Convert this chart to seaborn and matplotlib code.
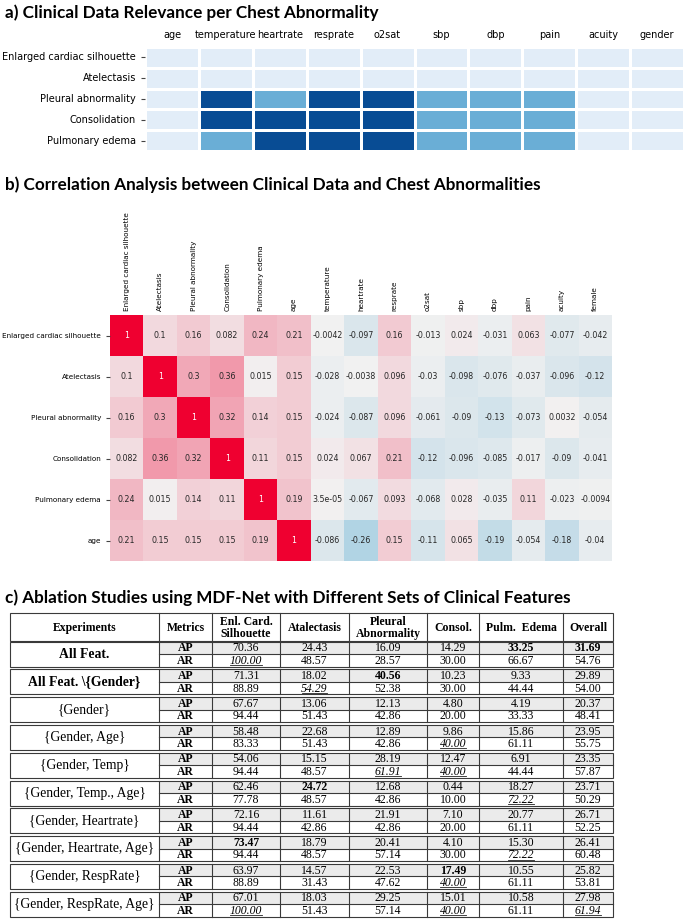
import numpy as np
import pandas as pd
import matplotlib
matplotlib.use('Agg')
import matplotlib.pyplot as plt
import seaborn as sns
from matplotlib.colors import ListedColormap, LinearSegmentedColormap
from matplotlib.patches import Rectangle

# ---- data: a) relevance (0 none, 1 medium, 2 high)
abnormalities = ['Enlarged cardiac silhouette', 'Atelectasis', 'Pleural abnormality',
                 'Consolidation', 'Pulmonary edema']
clinical_a = ['age', 'temperature', 'heartrate', 'resprate', 'o2sat',
              'sbp', 'dbp', 'pain', 'acuity', 'gender']
rel_ecs = [0, 0, 0, 0, 0, 0, 0, 0, 0, 0]
rel_atel = [0, 0, 0, 0, 0, 0, 0, 0, 0, 0]
rel_pleural = [0, 2, 1, 2, 2, 1, 1, 1, 0, 0]
rel_consol = [0, 2, 2, 2, 2, 1, 1, 1, 0, 0]
rel_edema = [0, 1, 2, 2, 2, 1, 1, 1, 0, 0]

# ---- data: b) correlation
corr_rows = ['Enlarged cardiac silhouette', 'Atelectasis', 'Pleural abnormality',
             'Consolidation', 'Pulmonary edema', 'age']
corr_cols = ['Enlarged cardiac silhouette', 'Atelectasis', 'Pleural abnormality',
             'Consolidation', 'Pulmonary edema', 'age', 'temperature', 'heartrate',
             'resprate', 'o2sat', 'sbp', 'dbp', 'pain', 'acuity', 'female']
corr_ecs = [1, 0.1, 0.16, 0.082, 0.24, 0.21, -0.0042, -0.097, 0.16, -0.013, 0.024, -0.031, 0.063, -0.077, -0.042]
corr_atel = [0.1, 1, 0.3, 0.36, 0.015, 0.15, -0.028, -0.0038, 0.096, -0.03, -0.098, -0.076, -0.037, -0.096, -0.12]
corr_pleural = [0.16, 0.3, 1, 0.32, 0.14, 0.15, -0.024, -0.087, 0.096, -0.061, -0.09, -0.13, -0.073, 0.0032, -0.054]
corr_consol = [0.082, 0.36, 0.32, 1, 0.11, 0.15, 0.024, 0.067, 0.21, -0.12, -0.096, -0.085, -0.017, -0.09, -0.041]
corr_edema = [0.24, 0.015, 0.14, 0.11, 1, 0.19, 3.5e-05, -0.067, 0.093, -0.068, 0.028, -0.035, 0.11, -0.023, -0.0094]
corr_age = [0.21, 0.15, 0.15, 0.15, 0.19, 1, -0.086, -0.26, 0.15, -0.11, 0.065, -0.19, -0.054, -0.18, -0.04]

# ---- data: c) ablation table
experiments = ['All Feat.', 'All Feat. \\{Gender}', '{Gender}', '{Gender, Age}', '{Gender, Temp}',
               '{Gender, Temp., Age}', '{Gender, Heartrate}', '{Gender, Heartrate, Age}',
               '{Gender, RespRate}', '{Gender, RespRate, Age}']
exp_bold = [True, True, False, False, False, False, False, False, False, False]
table_cols = ['Enl. Card.\nSilhouette', 'Atalectasis', 'Pleural\nAbnormality', 'Consol.',
              'Pulm.  Edema', 'Overall']
ap_values = [
    [70.36, 24.43, 16.09, 14.29, 33.25, 31.69],
    [71.31, 18.02, 40.56, 10.23, 9.33, 29.89],
    [67.67, 13.06, 12.13, 4.80, 4.19, 20.37],
    [58.48, 22.68, 12.89, 9.86, 15.86, 23.95],
    [54.06, 15.15, 28.19, 12.47, 6.91, 23.35],
    [62.46, 24.72, 12.68, 0.44, 18.27, 23.71],
    [72.16, 11.61, 21.91, 7.10, 20.77, 26.71],
    [73.47, 18.79, 20.41, 4.10, 15.30, 26.41],
    [63.97, 14.57, 22.53, 17.49, 10.55, 25.82],
    [67.01, 18.03, 29.25, 15.01, 10.58, 27.98],
]
ar_values = [
    [100.00, 48.57, 28.57, 30.00, 66.67, 54.76],
    [88.89, 54.29, 52.38, 30.00, 44.44, 54.00],
    [94.44, 51.43, 42.86, 20.00, 33.33, 48.41],
    [83.33, 51.43, 42.86, 40.00, 61.11, 55.75],
    [94.44, 48.57, 61.91, 40.00, 44.44, 57.87],
    [77.78, 48.57, 42.86, 10.00, 72.22, 50.29],
    [94.44, 42.86, 42.86, 20.00, 61.11, 52.25],
    [94.44, 48.57, 57.14, 30.00, 72.22, 60.48],
    [88.89, 31.43, 47.62, 40.00, 61.11, 53.81],
    [100.00, 51.43, 57.14, 40.00, 61.11, 61.94],
]

W, H = 685, 921
fig = plt.figure(figsize=(W / 100, H / 100), dpi=100)


def box(x0, y0, x1, y1):
    return [x0 / W, 1 - y1 / H, (x1 - x0) / W, (y1 - y0) / H]


title_kw = dict(fontfamily='Lato', fontweight='bold', fontsize=12.3, va='center', ha='left')
serif = 'Liberation Serif'

# ---- c) table, drawn in a figure-wide pixel axes
ax_c = fig.add_axes([0, 0, 1, 1])
ax_c.set_xlim(0, W)
ax_c.set_ylim(H, 0)
ax_c.axis('off')

col_edges = [10, 159, 212, 280, 349, 427, 479, 563, 613]
head_top, head_bot = 613, 641
pitch, row_h = 27.8, 12.5
lc, lw = '#3a3a3a', 0.8
fs = 8.5

ax_c.add_patch(Rectangle((col_edges[0], head_top), col_edges[-1] - col_edges[0],
                         head_bot - head_top, fill=False, ec=lc, lw=lw))
for x in col_edges[1:-1]:
    ax_c.plot([x, x], [head_top, head_bot], color=lc, lw=lw)
heads = ['Experiments', 'Metrics'] + table_cols
for i, h in enumerate(heads):
    xc = (col_edges[i] + col_edges[i + 1]) / 2
    ax_c.text(xc, (head_top + head_bot) / 2 + 0.5, h, ha='center', va='center',
              fontsize=fs, fontfamily=serif, fontweight='bold', linespacing=1.0)

ap_arr = np.array(ap_values)
ar_arr = np.array(ar_values)
ap_best = ap_arr.max(axis=0)
ar_best = ar_arr.max(axis=0)
underline_texts = []

for g, name in enumerate(experiments):
    top = head_bot + 0.5 + pitch * g
    ax_c.add_patch(Rectangle((col_edges[1], top), col_edges[-1] - col_edges[1], row_h,
                             fc='#ebebeb', ec='none'))
    ax_c.add_patch(Rectangle((col_edges[0], top), col_edges[-1] - col_edges[0], 2 * row_h,
                             fill=False, ec=lc, lw=lw))
    for x in col_edges[1:-1]:
        ax_c.plot([x, x], [top, top + 2 * row_h], color=lc, lw=lw)
    ax_c.plot([col_edges[1], col_edges[-1]], [top + row_h, top + row_h], color=lc, lw=lw)
    ax_c.text((col_edges[0] + col_edges[1]) / 2, top + row_h, name,
              ha='center', va='center', fontsize=9.8, fontfamily=serif,
              fontweight='bold' if exp_bold[g] else 'normal')
    for r, (metric, vals, best) in enumerate([('AP', ap_arr[g], ap_best), ('AR', ar_arr[g], ar_best)]):
        yc = top + row_h * (r + 0.5) + 0.5
        ax_c.text((col_edges[1] + col_edges[2]) / 2, yc, metric, ha='center', va='center',
                  fontsize=fs, fontfamily=serif, fontweight='bold')
        for j, v in enumerate(vals):
            xc = (col_edges[j + 2] + col_edges[j + 3]) / 2
            is_best = np.isclose(v, best[j])
            t = ax_c.text(xc, yc, f'{v:.2f}', ha='center', va='center', fontsize=fs,
                          fontfamily=serif,
                          fontweight='bold' if (is_best and metric == 'AP') else 'normal',
                          fontstyle='italic' if (is_best and metric == 'AR') else 'normal')
            if is_best and metric == 'AR':
                underline_texts.append(t)

fig.text(5 / W, 1 - 598 / H, 'c) Ablation Studies using MDF-Net with Different Sets of Clinical Features',
         **title_kw)

# ---- a) relevance heatmap
fig.text(5 / W, 1 - 13 / H, 'a) Clinical Data Relevance per Chest Abnormality', **title_kw)
df_a = pd.DataFrame([rel_ecs, rel_atel, rel_pleural, rel_consol, rel_edema],
                    index=abnormalities, columns=clinical_a)
ax_a = fig.add_axes(box(145, 47, 684, 151))
sns.heatmap(
    df_a,
    cmap=ListedColormap(['#e2edf8', '#6aaed6', '#084c94']),
    vmin=-0.5, vmax=2.5,
    cbar=False,
    linewidths=1,
    linecolor='white',
    ax=ax_a
)
ax_a.xaxis.tick_top()
ax_a.tick_params(axis='x', length=0, labelsize=7, labelrotation=0, pad=5)
ax_a.tick_params(axis='y', length=3, labelsize=7, labelrotation=0, color='#444444')
ax_a.set(xlabel='', ylabel='')

# ---- b) correlation heatmap
fig.text(5 / W, 1 - 185 / H, 'b) Correlation Analysis between Clinical Data and Chest Abnormalities',
         **title_kw)
df_b = pd.DataFrame([corr_ecs, corr_atel, corr_pleural, corr_consol, corr_edema, corr_age],
                    index=corr_rows, columns=corr_cols)
corr_cmap = LinearSegmentedColormap.from_list(
    'corr', [(0.0, '#2a6f97'), (0.37, '#b2d4e4'), (0.5, '#f2f1f1'), (1.0, '#ef0030')]
)
ax_b = fig.add_axes(box(110, 315, 612, 561))
sns.heatmap(
    df_b,
    cmap=corr_cmap,
    vmin=-1, vmax=1,
    annot=True,
    fmt='.2g',
    annot_kws={'size': 5.7},
    cbar=False,
    ax=ax_b
)
ax_b.xaxis.tick_top()
ax_b.tick_params(axis='x', length=0, labelsize=5.2, labelrotation=90, pad=3)
ax_b.tick_params(axis='y', length=3, labelsize=5.2, labelrotation=0, color='#444444')
ax_b.set(xlabel='', ylabel='')

# underline the best AR values (just under the baseline)
fig.canvas.draw()
inv = ax_c.transData.inverted()
for t in underline_texts:
    bb = t.get_window_extent()
    (x0, y0), (x1, y1) = inv.transform([[bb.x0, bb.y0], [bb.x1, bb.y1]])
    ax_c.plot([x0 + 0.5, x1 - 0.5], [y0 - 1.7, y0 - 1.7], color='#222222', lw=0.6)

fig.savefig('out.png', dpi=100)
